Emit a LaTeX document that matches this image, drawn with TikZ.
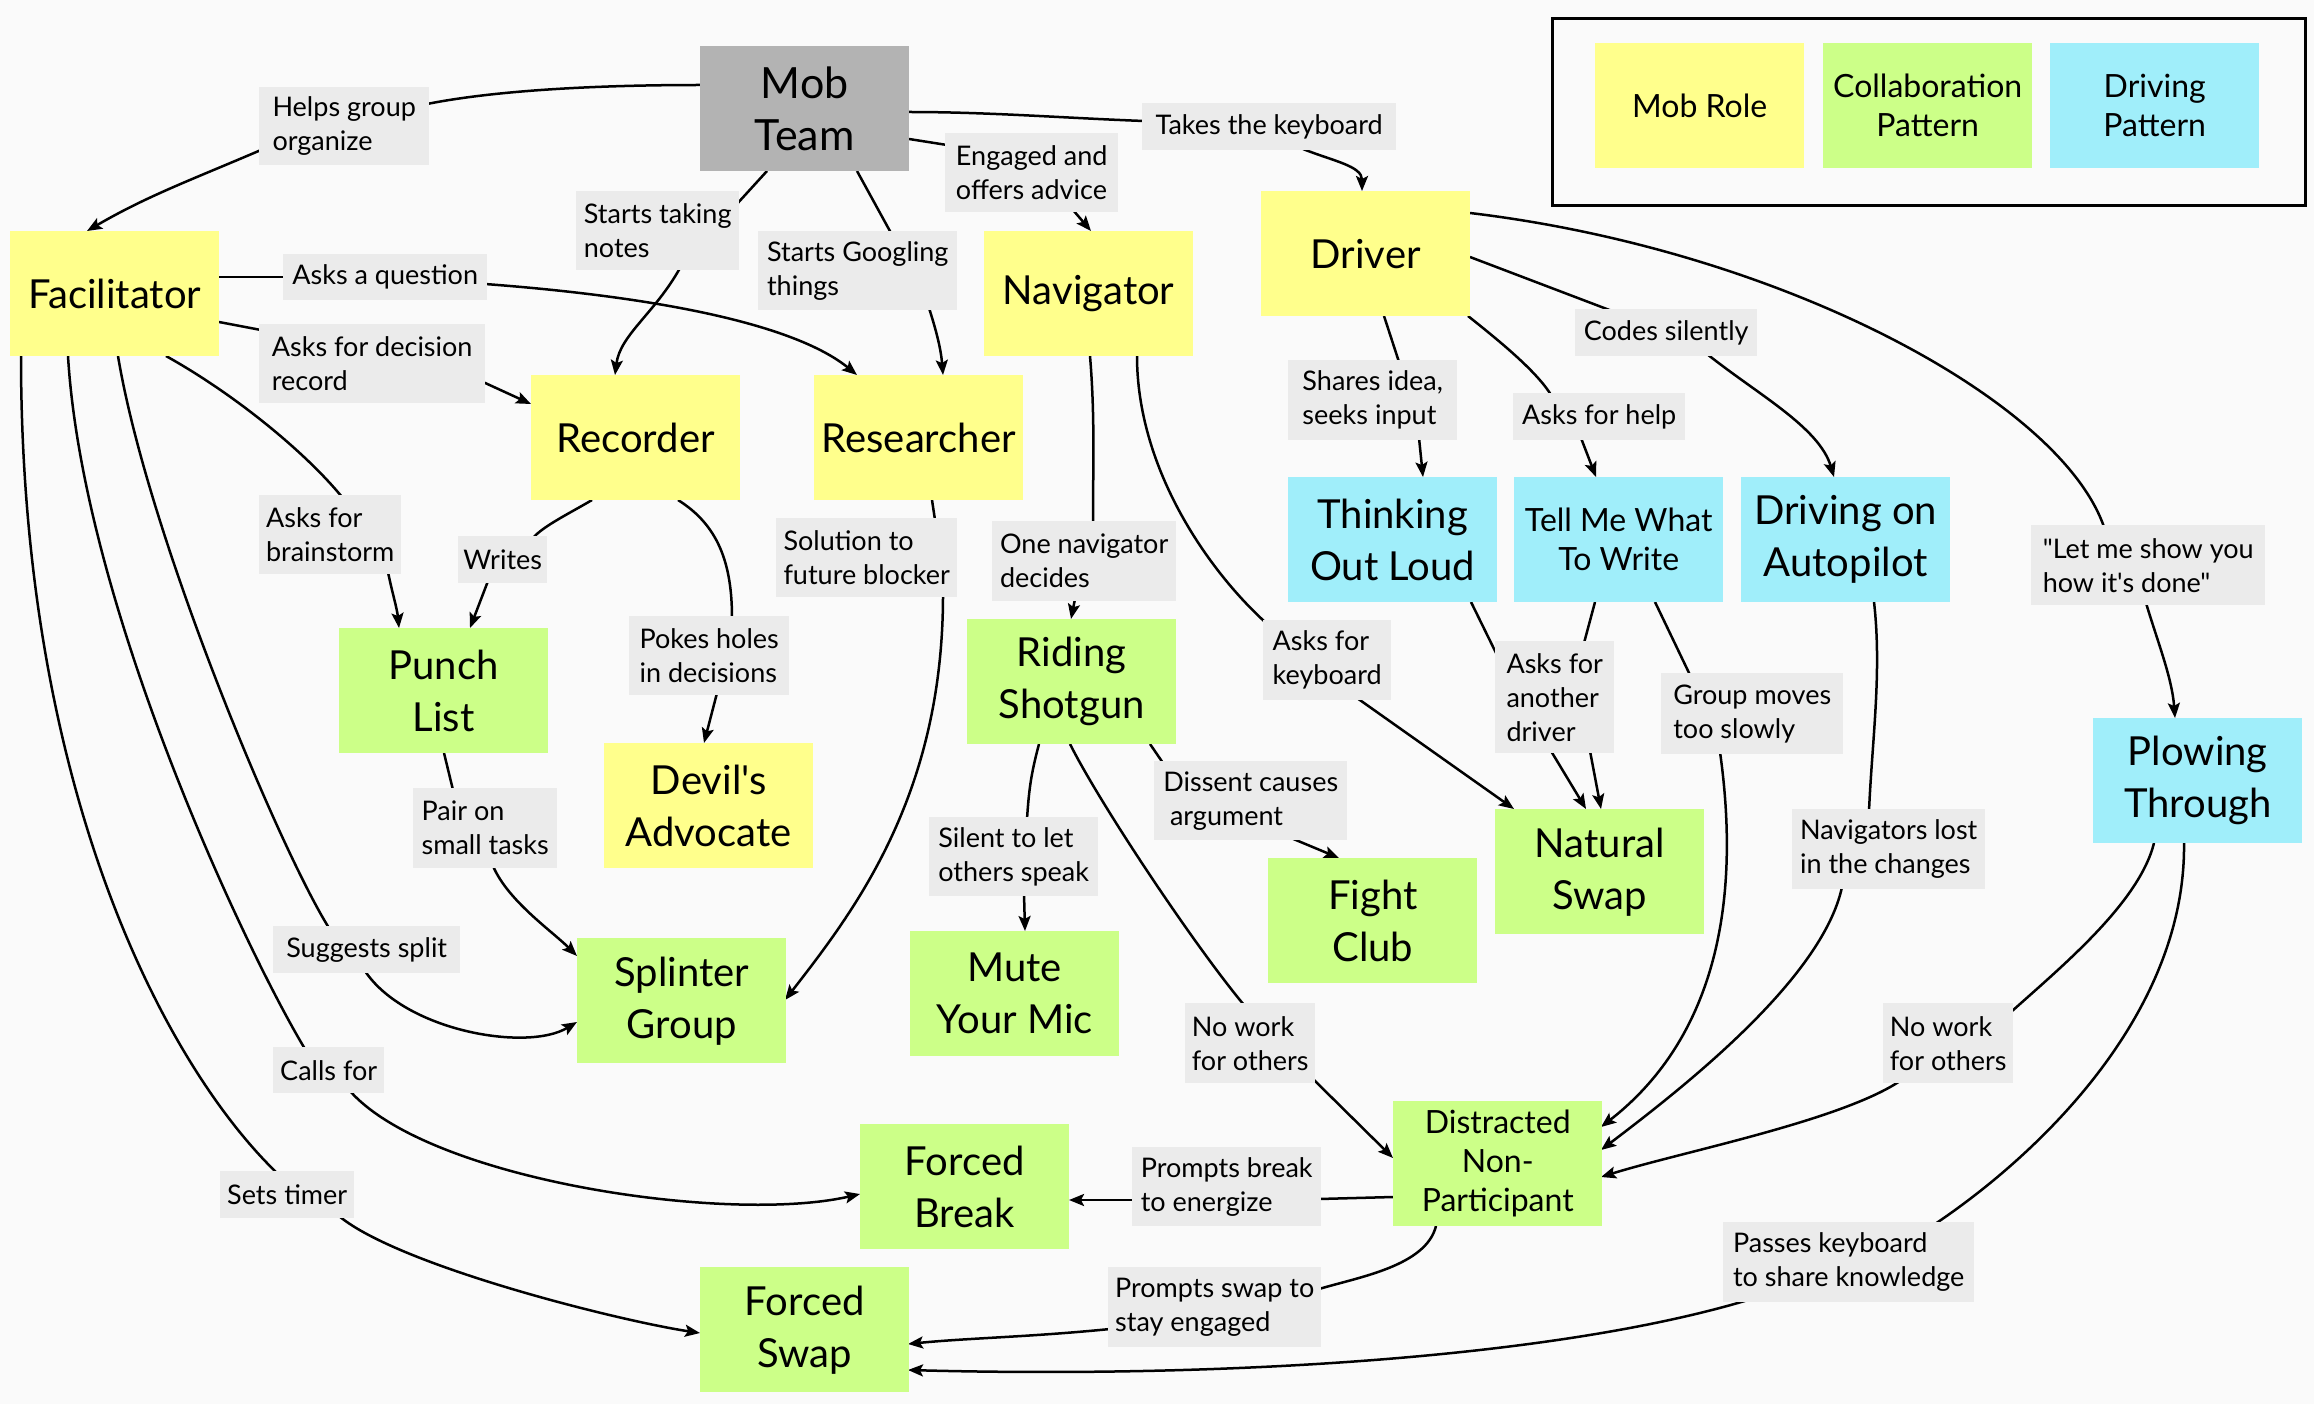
\documentclass[tikz,border=0pt]{standalone}
\usepackage{fontspec}
\setmainfont{Lato}[Ligatures=TeXOff]
\usetikzlibrary{arrows.meta}
\definecolor{yel}{HTML}{FFFF8C}
\definecolor{grn}{HTML}{CCFF88}
\definecolor{cyn}{HTML}{A0EEFA}
\definecolor{lgr}{HTML}{EBEBEB}
\definecolor{mobg}{HTML}{B3B3B3}
\definecolor{bgc}{HTML}{FAFAFA}
\newcommand\bigfnt{\fontsize{40}{52}\selectfont}
\newcommand\mobfnt{\fontsize{43}{52}\selectfont}
\newcommand\midfnt{\fontsize{32}{39}\selectfont}
\newcommand\labfnt{\fontsize{27}{34}\selectfont}
\pgfdeclarelayer{bglayer}
\pgfdeclarelayer{edgelayer}
\pgfsetlayers{bglayer,edgelayer,main}
\tikzset{
  bx/.style={anchor=north west, minimum width=209pt, minimum height=125pt, inner sep=0pt, align=center, font=\bigfnt, text=black},
  role/.style={bx, fill=yel},
  collab/.style={bx, fill=grn},
  drivep/.style={bx, fill=cyn},
  lab/.style={anchor=north west, fill=lgr, align=left, inner sep=0pt, font=\labfnt, text=black},
  conn/.style={line width=2.5pt, black},
  arr/.style={conn, -{Stealth[length=15pt,width=12pt,inset=3pt]}},
}
\begin{document}
\begin{tikzpicture}[x=1pt,y=-1pt]
\begin{pgfonlayer}{bglayer}
\fill[bgc] (0,0) rectangle (2314,1404);
\end{pgfonlayer}
\useasboundingbox (0,0) rectangle (2314,1404);

% legend
\node[draw=black, line width=3pt, anchor=north west, minimum width=753pt, minimum height=187pt, inner sep=0pt] (legend) at (1551,17) {};
\node[role, font=\midfnt] (legrole) at (1595,43) {Mob Role};
\node[collab, font=\midfnt] (legcol) at (1823,43) {Collaboration\\Pattern};
\node[drivep, font=\midfnt] (legdrv) at (2050,43) {Driving\\Pattern};

% main nodes
\node[bx, fill=mobg, font=\mobfnt] (mob) at (700,46) {Mob\\Team};
\node[role] (fac) at (10,231) {Facilitator};
\node[role] (nav) at (984,231) {Navigator};
\node[role] (rec) at (531,375) {Recorder};
\node[role] (res) at (814,375) {Researcher};
\node[role] (drv) at (1261,191) {Driver};
\node[drivep] (tol) at (1288,477) {Thinking\\Out Loud};
\node[drivep, font=\midfnt] (tmw) at (1514,477) {Tell Me What\\To Write};
\node[drivep] (dap) at (1741,477) {Driving on\\Autopilot};
\node[collab] (pl) at (339,628) {Punch\\List};
\node[collab] (rs) at (967,619) {Riding\\Shotgun};
\node[role] (da) at (604,743) {Devil's\\Advocate};
\node[collab] (sg) at (577,938) {Splinter\\Group};
\node[collab] (mym) at (910,931) {Mute\\Your Mic};
\node[collab] (fb) at (860,1124) {Forced\\Break};
\node[collab] (fs) at (700,1267) {Forced\\Swap};
\node[collab] (fc) at (1268,858) {Fight\\Club};
\node[collab] (ns) at (1495,809) {Natural\\Swap};
\node[drivep] (pt) at (2093,718) {Plowing\\Through};
\node[collab, font=\midfnt] (dnp) at (1393,1101) {Distracted\\Non-\\Participant};

% labels
\node[lab, minimum width=170pt, minimum height=78pt] (l1) at (259,87) {Helps group\\organize};
\node[lab, minimum width=163pt, minimum height=79pt] (l2) at (576,191) {Starts taking\\notes};
\node[lab, minimum width=173pt, minimum height=79pt] (l3) at (945,133) {Engaged and\\offers advice};
\node[lab, minimum width=254pt, minimum height=47pt] (l4) at (1142,103) {Takes the keyboard};
\node[lab, minimum width=199pt, minimum height=79pt] (l5) at (758,231) {Starts Googling\\things};
\node[lab, minimum width=204pt, minimum height=46pt] (l6) at (283,254) {Asks a question};
\node[lab, minimum width=226pt, minimum height=79pt] (l7) at (259,324) {Asks for decision\\record};
\node[lab, minimum width=142pt, minimum height=79pt] (l8) at (259,495) {Asks for\\brainstorm};
\node[lab, minimum width=89pt, minimum height=47pt] (l9) at (458,536) {Writes};
\node[lab, minimum width=160pt, minimum height=79pt] (l10) at (629,616) {Pokes holes\\in decisions};
\node[lab, minimum width=181pt, minimum height=79pt] (l11) at (776,518) {Solution to\\future blocker};
\node[lab, minimum width=184pt, minimum height=80pt] (l12) at (992,521) {One navigator\\decides};
\node[lab, minimum width=169pt, minimum height=80pt] (l13) at (1288,360) {Shares idea,\\seeks input};
\node[lab, minimum width=172pt, minimum height=47pt] (l14) at (1513,393) {Asks for help};
\node[lab, minimum width=182pt, minimum height=47pt] (l15) at (1575,309) {Codes silently};
\node[lab, minimum width=234pt, minimum height=80pt] (l16) at (2031,525) {"Let me show you\\how it's done"};
\node[lab, minimum width=128pt, minimum height=80pt] (l17) at (1263,620) {Asks for\\keyboard};
\node[lab, minimum width=119pt, minimum height=112pt] (l18) at (1495,641) {Asks for\\another\\driver};
\node[lab, minimum width=182pt, minimum height=81pt] (l19) at (1661,673) {Group moves\\too slowly};
\node[lab, minimum width=144pt, minimum height=80pt] (l20) at (413,788) {Pair on\\small tasks};
\node[lab, minimum width=169pt, minimum height=79pt] (l21) at (929,817) {Silent to let\\others speak};
\node[lab, minimum width=193pt, minimum height=79pt] (l22) at (1154,761) {Dissent causes\\\hbox to 0.25em{}argument};
\node[lab, minimum width=193pt, minimum height=80pt] (l23) at (1792,809) {Navigators lost\\in the changes};
\node[lab, minimum width=187pt, minimum height=47pt] (l24) at (273,926) {Suggests split};
\node[lab, minimum width=130pt, minimum height=80pt] (l25) at (1185,1003) {No work\\for others};
\node[lab, minimum width=130pt, minimum height=80pt] (l26) at (1883,1003) {No work\\for others};
\node[lab, minimum width=111pt, minimum height=46pt] (l27) at (273,1047) {Calls for};
\node[lab, minimum width=189pt, minimum height=79pt] (l28) at (1132,1147) {Prompts break\\to energize};
\node[lab, minimum width=134pt, minimum height=47pt] (l29) at (220,1171) {Sets timer};
\node[lab, minimum width=213pt, minimum height=80pt] (l30) at (1108,1267) {Prompts swap to\\stay engaged};
\node[lab, minimum width=251pt, minimum height=80pt] (l31) at (1723,1222) {Passes keyboard\\to share knowledge};

\begin{pgfonlayer}{edgelayer}
% Mob Team
\draw[conn] ([shift={(0,39)}]mob.north west) .. controls +(-120,0) and +(60,-12) .. ([shift={(168,17)}]l1.north west);
\draw[arr] ([shift={(2,63)}]l1.north west) .. controls +(-70,30) and +(60,-35) .. ([shift={(77,0)}]fac.north west);
\draw[conn] ([shift={(67,125)}]mob.north west) -- ([shift={(160,14)}]l2.north west);
\draw[arr] ([shift={(104,77)}]l2.north west) .. controls +(-25,45) and +(5,-40) .. ([shift={(84,0)}]rec.north west);
\draw[conn] ([shift={(157,125)}]mob.north west) -- ([shift={(133,2)}]l5.north west);
\draw[arr] ([shift={(171,77)}]l5.north west) .. controls +(8,25) and +(-2,-25) .. ([shift={(129,0)}]res.north west);
\draw[conn] ([shift={(209,93)}]mob.north west) -- ([shift={(2,12)}]l3.north west);
\draw[arr] ([shift={(128,77)}]l3.north west) -- ([shift={(107,0)}]nav.north west);
\draw[conn] ([shift={(209,66)}]mob.north west) .. controls +(80,0) and +(-80,-3) .. ([shift={(2,18)}]l4.north west);
\draw[arr] ([shift={(161,46)}]l4.north west) .. controls +(30,12) and +(0,-25) .. ([shift={(101,0)}]drv.north west);
% Facilitator
\draw[conn] ([shift={(209,46)}]fac.north west) -- ([shift={(2,23)}]l6.north west);
\draw[arr] ([shift={(202,30)}]l6.north west) .. controls +(200,15) and +(-55,-45) .. ([shift={(43,0)}]res.north west);
\draw[conn] ([shift={(209,91)}]fac.north west) -- ([shift={(2,6)}]l7.north west);
\draw[arr] ([shift={(224,58)}]l7.north west) -- ([shift={(0,29)}]rec.north west);
\draw[conn] ([shift={(156,125)}]fac.north west) .. controls +(70,39) and +(-36,-44) .. ([shift={(83,2)}]l8.north west);
\draw[arr] ([shift={(129,77)}]l8.north west) .. controls +(4,20) and +(-2,-20) .. ([shift={(60,0)}]pl.north west);
\draw[conn] ([shift={(108,125)}]fac.north west) .. controls +(30,180) and +(-50,-80) .. ([shift={(56,2)}]l24.north west);
\draw[arr] ([shift={(92,45)}]l24.north west) .. controls +(40,60) and +(-50,30) .. ([shift={(0,84)}]sg.north west);
\draw[conn] ([shift={(58,125)}]fac.north west) .. controls +(15,250) and +(-60,-100) .. ([shift={(32,2)}]l27.north west);
\draw[arr] ([shift={(77,44)}]l27.north west) .. controls +(80,90) and +(-130,30) .. ([shift={(0,70)}]fb.north west);
\draw[conn] ([shift={(11,125)}]fac.north west) .. controls +(0,444) and +(-107,-103) .. ([shift={(57,2)}]l29.north west);
\draw[arr] ([shift={(119,45)}]l29.north west) .. controls +(60,50) and +(-80,-12) .. ([shift={(0,66)}]fs.north west);
% Recorder
\draw[conn] ([shift={(61,125)}]rec.north west) .. controls +(-20,12) and +(10,-12) .. ([shift={(75,2)}]l9.north west);
\draw[arr] ([shift={(30,45)}]l9.north west) -- ([shift={(131,0)}]pl.north west);
\draw[conn] ([shift={(147,125)}]rec.north west) .. controls +(40,25) and +(0,-55) .. ([shift={(103,2)}]l10.north west);
\draw[arr] ([shift={(88,77)}]l10.north west) -- ([shift={(100,0)}]da.north west);
% Researcher
\draw[conn] ([shift={(118,125)}]res.north west) -- ([shift={(159,2)}]l11.north west);
\draw[arr] ([shift={(167,77)}]l11.north west) .. controls +(0,200) and +(70,-90) .. ([shift={(208,62)}]sg.north west);
% Navigator
\draw[conn] ([shift={(106,125)}]nav.north west) .. controls +(5,60) and +(0,-60) .. ([shift={(101,2)}]l12.north west);
\draw[arr] ([shift={(83,78)}]l12.north west) -- ([shift={(104,0)}]rs.north west);
\draw[conn] ([shift={(153,125)}]nav.north west) .. controls +(0,110) and +(-60,-55) .. ([shift={(2,2)}]l17.north west);
\draw[arr] ([shift={(94,78)}]l17.north west) -- ([shift={(19,0)}]ns.north west);
% Driver
\draw[conn] ([shift={(123,125)}]drv.north west) -- ([shift={(111,2)}]l13.north west);
\draw[arr] ([shift={(131,78)}]l13.north west) -- ([shift={(135,0)}]tol.north west);
\draw[conn] ([shift={(207,125)}]drv.north west) .. controls +(25,20) and +(-15,-25) .. ([shift={(38,2)}]l14.north west);
\draw[arr] ([shift={(68,45)}]l14.north west) -- ([shift={(82,0)}]tmw.north west);
\draw[conn] ([shift={(209,66)}]drv.north west) -- ([shift={(37,2)}]l15.north west);
\draw[arr] ([shift={(132,45)}]l15.north west) .. controls +(50,40) and +(-15,-50) .. ([shift={(93,0)}]dap.north west);
\draw[conn] ([shift={(209,22)}]drv.north west) .. controls +(310,37) and +(-44,-127) .. ([shift={(73,2)}]l16.north west);
\draw[arr] ([shift={(115,78)}]l16.north west) .. controls +(12,40) and +(-3,-40) .. ([shift={(82,0)}]pt.north west);
% Driving patterns
\draw[conn] ([shift={(183,125)}]tol.north west) -- ([shift={(2,14)}]l18.north west);
\draw[arr] ([shift={(56,110)}]l18.north west) -- ([shift={(91,0)}]ns.north west);
\draw[conn] ([shift={(81,125)}]tmw.north west) -- ([shift={(89,2)}]l18.north west);
\draw[arr] ([shift={(95,110)}]l18.north west) -- ([shift={(106,0)}]ns.north west);
\draw[conn] ([shift={(141,125)}]tmw.north west) -- ([shift={(29,2)}]l19.north west);
\draw[arr] ([shift={(59,79)}]l19.north west) .. controls +(25,178) and +(99,-77) .. ([shift={(208,26)}]dnp.north west);
\draw[conn] ([shift={(133,125)}]dap.north west) .. controls +(8,70) and +(3,-70) .. ([shift={(77,2)}]l23.north west);
\draw[arr] ([shift={(50,78)}]l23.north west) .. controls +(-20,93) and +(79,-60) .. ([shift={(208,49)}]dnp.north west);
\draw[conn] ([shift={(61,125)}]pt.north west) .. controls +(-15,60) and +(50,-45) .. ([shift={(128,9)}]l26.north west);
\draw[arr] ([shift={(17,78)}]l26.north west) .. controls +(-60,40) and +(80,-25) .. ([shift={(208,76)}]dnp.north west);
\draw[conn] ([shift={(91,125)}]pt.north west) .. controls +(2,167) and +(110,-74) .. ([shift={(212,2)}]l31.north west);
\draw[arr] ([shift={(25,78)}]l31.north west) .. controls +(-200,60) and +(300,8) .. ([shift={(208,103)}]fs.north west);
% Riding Shotgun
\draw[conn] ([shift={(72,125)}]rs.north west) .. controls +(-8,30) and +(2,-30) .. ([shift={(98,2)}]l21.north west);
\draw[arr] ([shift={(95,77)}]l21.north west) -- ([shift={(115,0)}]mym.north west);
\draw[conn] ([shift={(183,125)}]rs.north west) -- ([shift={(9,2)}]l22.north west);
\draw[arr] ([shift={(137,77)}]l22.north west) -- ([shift={(71,0)}]fc.north west);
\draw[conn] ([shift={(103,125)}]rs.north west) .. controls +(30,60) and +(-50,-60) .. ([shift={(59,2)}]l25.north west);
\draw[arr] ([shift={(128,76)}]l25.north west) -- ([shift={(0,57)}]dnp.north west);
% Distracted
\draw[conn] ([shift={(0,96)}]dnp.north west) -- ([shift={(187,52)}]l28.north west);
\draw[arr] ([shift={(2,53)}]l28.north west) -- ([shift={(209,76)}]fb.north west);
\draw[conn] ([shift={(43,125)}]dnp.north west) .. controls +(-10,40) and +(40,-12) .. ([shift={(211,22)}]l30.north west);
\draw[arr] ([shift={(2,62)}]l30.north west) .. controls +(-80,8) and +(60,-6) .. ([shift={(208,77)}]fs.north west);
% Punch list
\draw[conn] ([shift={(105,125)}]pl.north west) -- ([shift={(40,2)}]l20.north west);
\draw[arr] ([shift={(80,78)}]l20.north west) .. controls +(15,35) and +(-25,-25) .. ([shift={(0,18)}]sg.north west);
\end{pgfonlayer}
\end{tikzpicture}
\end{document}
